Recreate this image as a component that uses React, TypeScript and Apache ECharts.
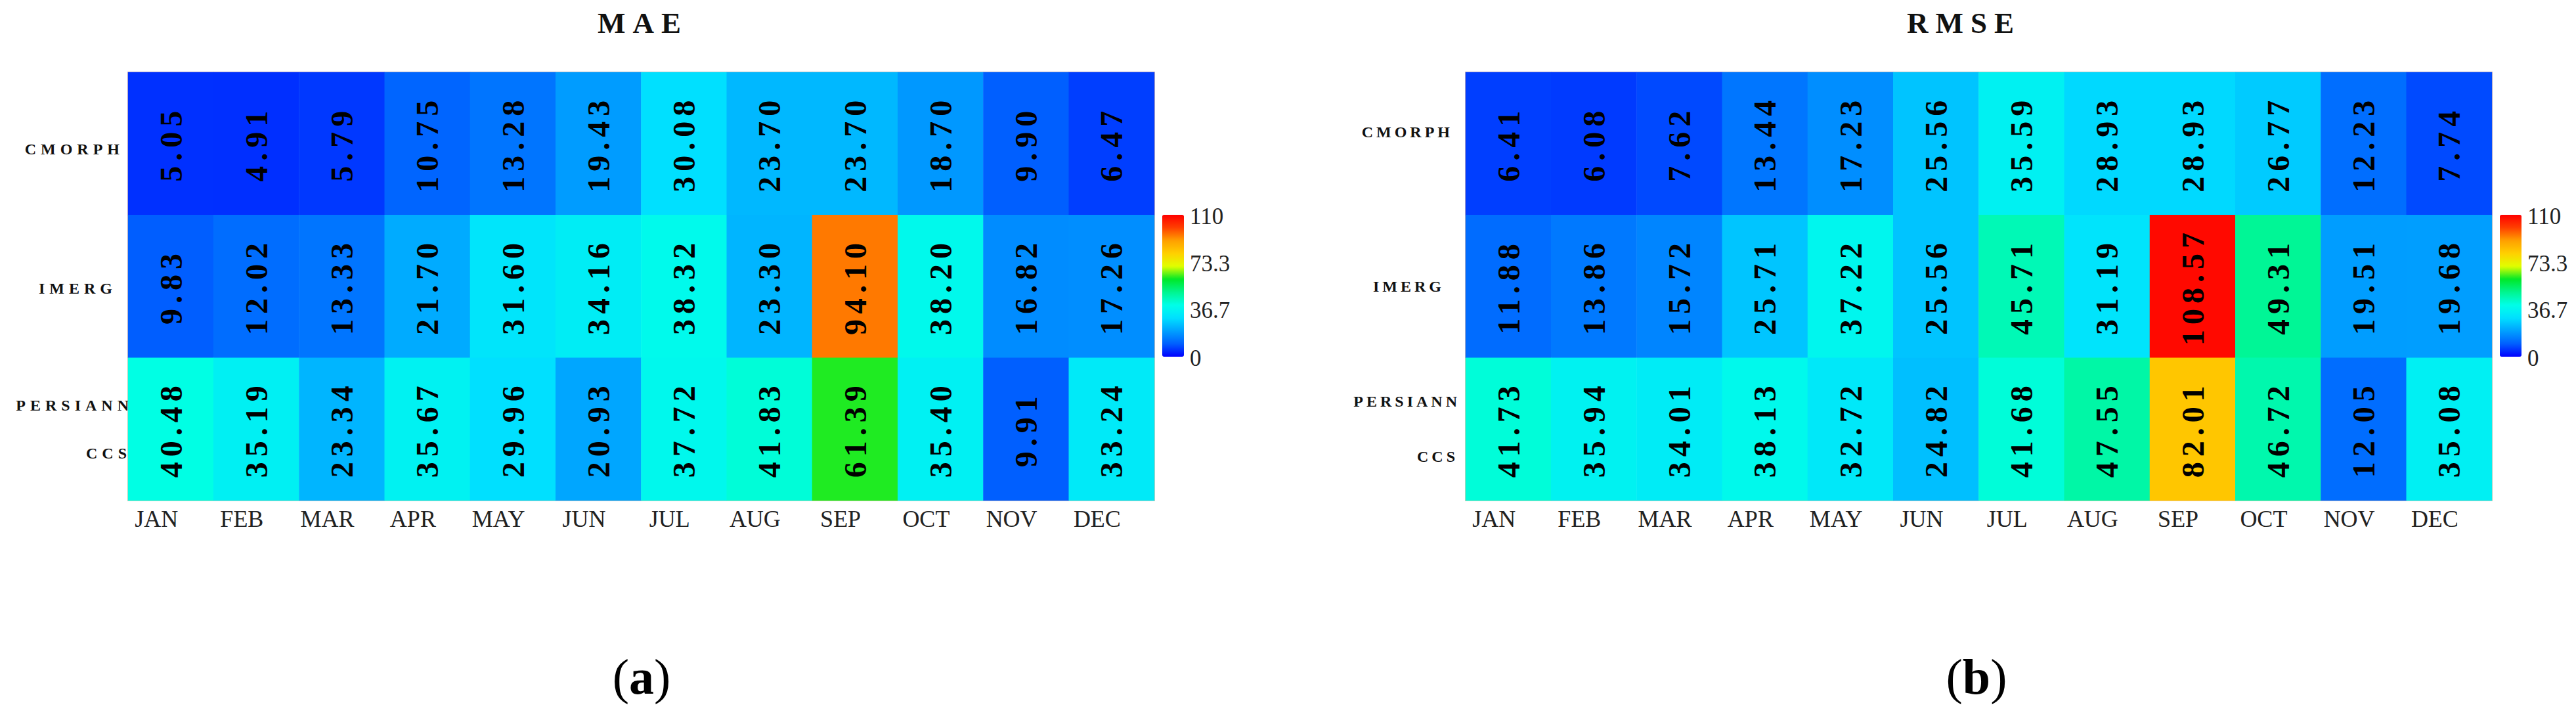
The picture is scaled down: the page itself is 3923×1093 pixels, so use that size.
import React, { useEffect, useRef } from 'react';
import * as echarts from 'echarts';

const MONTHS = ['JAN', 'FEB', 'MAR', 'APR', 'MAY', 'JUN', 'JUL', 'AUG', 'SEP', 'OCT', 'NOV', 'DEC'];
const PRODUCTS = ['CMORPH', 'IMERG', 'PERSIANN\nCCS'];

const MAE_CMORPH = [5.05, 4.91, 5.79, 10.75, 13.28, 19.43, 30.08, 23.7, 23.7, 18.7, 9.9, 6.47];
const MAE_IMERG = [9.83, 12.02, 13.33, 21.7, 31.6, 34.16, 38.32, 23.3, 94.1, 38.2, 16.82, 17.26];
const MAE_PERSIANN = [40.48, 35.19, 23.34, 35.67, 29.96, 20.93, 37.72, 41.83, 61.39, 35.4, 9.91, 33.24];

const RMSE_CMORPH = [6.41, 6.08, 7.62, 13.44, 17.23, 25.56, 35.59, 28.93, 28.93, 26.77, 12.23, 7.74];
const RMSE_IMERG = [11.88, 13.86, 15.72, 25.71, 37.22, 25.56, 45.71, 31.19, 108.57, 49.31, 19.51, 19.68];
const RMSE_PERSIANN = [41.73, 35.94, 34.01, 38.13, 32.72, 24.82, 41.68, 47.55, 82.01, 46.72, 12.05, 35.08];

const SCALE_MIN = 0;
const SCALE_MAX = 110;
const SCALE_TICKS = [0, 36.7, 73.3, 110];
const SCALE_TICK_LABELS = ['0', '36.7', '73.3', '110'];
const SCALE_COLORS = [
  '#0000ff', '#0060ff', '#00a0ff', '#00e0ff', '#00ffe8', '#00f590',
  '#00e828', '#e0ff00', '#ffd000', '#ffa000', '#ff4000', '#ff0000',
];

const SERIF = "'Times New Roman', 'Liberation Serif', serif";

const GRID_TOP = 110;
const GRID_W = 1563;
const GRID_H = 652;

const PANELS = [
  {
    title: 'MAE', caption: 'a', rows: [MAE_CMORPH, MAE_IMERG, MAE_PERSIANN], left: 195,
    labelMargin: -8, lineH: 73, titleX: 979, capX: 977, ySpacing: 7,
    padC: [16, 14, 0, 0], padI: [6, 25, 0, 0], padP: [0, 0, 0, 0], padQ: [0, 3, 0, 0],
  },
  {
    title: 'RMSE', caption: 'b', rows: [RMSE_CMORPH, RMSE_IMERG, RMSE_PERSIANN], left: 2232,
    labelMargin: 8, lineH: 84, titleX: 2991, capX: 3010, ySpacing: 5,
    padC: [0, 11, 36, 0], padI: [0, 24, 0, 0], padP: [0, 0, 0, 0], padQ: [0, 3, 0, 0],
  },
];

function toCells(rows: number[][]) {
  const out: number[][] = [];
  rows.forEach((row, yi) => row.forEach((v, xi) => out.push([xi, yi, v])));
  return out;
}

export default function App() {
  const ref = useRef<HTMLDivElement>(null);

  useEffect(() => {
    const el = ref.current!;
    const chart = echarts.init(el, undefined, { renderer: 'svg' });

    const grids: any[] = [];
    const xAxes: any[] = [];
    const yAxes: any[] = [];
    const series: any[] = [];
    const visualMaps: any[] = [];
    const graphics: any[] = [];

    PANELS.forEach((p, i) => {
      grids.push({
        left: p.left, top: GRID_TOP, width: GRID_W, height: GRID_H,
        show: true, borderColor: '#e8c4b0', borderWidth: 2, backgroundColor: 'transparent',
      });
      xAxes.push({
        type: 'category', gridIndex: i, data: MONTHS,
        axisLine: { show: false }, axisTick: { show: false }, splitLine: { show: false },
        axisLabel: {
          fontFamily: SERIF, fontSize: 36, color: '#222', margin: 10,
          padding: [0, 44, 0, 0],
        },
      });
      const yStyle = { align: 'right', fontFamily: SERIF, fontSize: 24, fontWeight: 'bold', color: '#111' };
      yAxes.push({
        type: 'category', gridIndex: i, data: PRODUCTS, inverse: true,
        axisLine: { show: false }, axisTick: { show: false }, splitLine: { show: false },
        axisLabel: {
          align: 'right', margin: p.labelMargin,
          fontFamily: SERIF, fontSize: 24, fontWeight: 'bold', color: '#111',
          formatter: (v: string) => {
            if (v.indexOf('\n') >= 0) {
              const parts = v.split('\n');
              return `{p|${parts[0]}}\n{q|${parts[1]}}`;
            }
            return v === 'CMORPH' ? `{c|${v}}` : `{i|${v}}`;
          },
          rich: {
            c: { ...yStyle, padding: p.padC },
            i: { ...yStyle, padding: p.padI },
            p: { ...yStyle, padding: p.padP, lineHeight: p.lineH },
            q: { ...yStyle, padding: p.padQ, lineHeight: p.lineH },
          },
        },
      });
      series.push({
        type: 'heatmap', xAxisIndex: i, yAxisIndex: i,
        data: toCells(p.rows),
        itemStyle: { borderWidth: 0 },
        emphasis: { disabled: true },
        label: {
          show: true, rotate: 90,
          formatter: (q: any) => Number(q.value[2]).toFixed(2),
          fontFamily: SERIF, fontWeight: 'bold', fontSize: 48, color: '#000',
        },
      });
      const cbLeft = p.left + GRID_W + 12;
      const cbTop = GRID_TOP + Math.round(GRID_H / 3);
      const cbH = 216;
      visualMaps.push({
        type: 'continuous', seriesIndex: i, min: SCALE_MIN, max: SCALE_MAX,
        left: cbLeft, top: cbTop, itemWidth: 33, itemHeight: cbH, padding: 0,
        calculable: false, orient: 'vertical',
        inRange: { color: SCALE_COLORS },
      });
      SCALE_TICKS.forEach((t, k) => {
        graphics.push({
          type: 'text',
          x: cbLeft + 42,
          y: cbTop + cbH * (1 - (t - SCALE_MIN) / (SCALE_MAX - SCALE_MIN)) + 2,
          style: {
            text: SCALE_TICK_LABELS[k], font: `35px ${SERIF}`, fill: '#222',
            textAlign: 'left', textVerticalAlign: 'middle',
          },
        });
      });
      graphics.push({
        type: 'text', x: p.titleX, y: 35,
        style: {
          text: p.title, font: `bold 45px ${SERIF}`, fill: '#111',
          textAlign: 'center', textVerticalAlign: 'middle',
        },
      });
      graphics.push({
        type: 'text', x: p.capX, y: 1030,
        style: {
          text: `{p|(}{b|${p.caption}}{p|)}`,
          textAlign: 'center', textVerticalAlign: 'middle',
          rich: {
            p: { font: `76px ${SERIF}`, fill: '#000' },
            b: { font: `bold 76px ${SERIF}`, fill: '#000' },
          },
        },
      });
    });

    chart.setOption({
      animation: false,
      backgroundColor: '#ffffff',
      grid: grids,
      xAxis: xAxes,
      yAxis: yAxes,
      visualMap: visualMaps,
      series,
      graphic: graphics,
    });

    const applySpacing = () => {
      const half = 3923 / 2;
      el.querySelectorAll('text').forEach((t) => {
        const s = (t.textContent || '').trim();
        let ls = 0;
        if (/^\d+\.\d\d$/.test(s)) ls = 8;
        else if (s === 'MAE' || s === 'RMSE') ls = 11;
        else if (['CMORPH', 'IMERG', 'PERSIANN', 'CCS'].indexOf(s) >= 0) {
          const r = t.getBoundingClientRect();
          ls = r.left < half ? PANELS[0].ySpacing : PANELS[1].ySpacing;
        }
        if (ls) t.setAttribute('letter-spacing', String(ls));
      });
    };
    applySpacing();
    chart.on('finished', applySpacing);
    const raf = requestAnimationFrame(applySpacing);

    return () => {
      cancelAnimationFrame(raf);
      chart.dispose();
    };
  }, []);

  return (
    <div
      ref={ref}
      style={{ position: 'fixed', left: 0, top: 0, width: 3923, height: 1093, background: '#fff' }}
    />
  );
}
